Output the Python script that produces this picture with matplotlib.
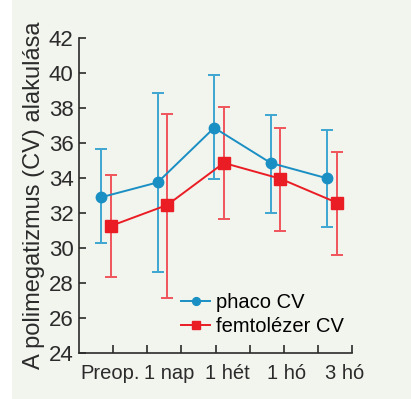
import numpy as np
import matplotlib.pyplot as plt
from matplotlib.patches import Rectangle

categories = ['Preop.', '1 nap', '1 hét', '1 hó', '3 hó']
phaco_mean = [32.9, 33.75, 36.87, 34.86, 33.98]
phaco_low = [30.27, 28.65, 33.96, 31.98, 31.2]
phaco_high = [35.64, 38.87, 39.87, 37.58, 36.76]
femto_mean = [31.26, 32.46, 34.86, 33.96, 32.59]
femto_low = [28.36, 27.16, 31.67, 30.99, 29.62]
femto_high = [34.17, 37.67, 38.07, 36.86, 35.47]

blue = '#1a8fc4'
blue_err = '#3ea6d2'
red = '#ea1c24'
red_err = '#f0545c'
bg = '#f2f4ee'
ink = '#2b2b2b'

plt.rcParams['font.family'] = ['Liberation Sans', 'DejaVu Sans']

fig = plt.figure(figsize=(4.16, 3.99), dpi=100, facecolor='white')
fig.patches.append(Rectangle((12 / 416, 0), (411 - 12) / 416, 1,
                             transform=fig.transFigure, facecolor=bg,
                             edgecolor='none', zorder=-10))
ax = fig.add_axes([79 / 416, 46 / 399, (352 - 79) / 416, (353 - 38) / 399])
ax.set_facecolor('none')

x = np.arange(len(categories))
off = 0.085
xp = x - off
xf = x + off

pm = np.array(phaco_mean)
fm = np.array(femto_mean)
perr = [pm - np.array(phaco_low), np.array(phaco_high) - pm]
ferr = [fm - np.array(femto_low), np.array(femto_high) - fm]

ax.errorbar(xp, pm, yerr=perr, fmt='none', ecolor=blue_err, elinewidth=1.4,
            capsize=4.5, capthick=1.4, zorder=2)
ax.errorbar(xf, fm, yerr=ferr, fmt='none', ecolor=red_err, elinewidth=1.4,
            capsize=4.5, capthick=1.4, zorder=2)
ax.plot(xp, pm, color=blue, lw=1.4, marker='o', ms=7.5, label='phaco CV', zorder=3)
ax.plot(xf, fm, color=red, lw=1.4, marker='s', ms=8, label='femtolézer CV', zorder=3)

xmin, xmax = -0.478, 4.354
ax.set_xlim(xmin, xmax)
ax.set_ylim(24, 42)
ax.set_yticks(np.arange(24, 43, 2))
ax.set_xticks(np.linspace(xmin, xmax, 9)[1:], minor=True)
ax.set_xticks(x * 1.04 + 0.07)
ax.set_xticklabels(categories)

for s in ['top', 'right']:
    ax.spines[s].set_visible(False)
for s in ['left', 'bottom']:
    ax.spines[s].set_color(ink)
    ax.spines[s].set_linewidth(1.2)

ax.tick_params(axis='y', direction='in', length=5, width=1.2, color=ink,
               labelsize=16, labelcolor=ink, pad=4)
ax.tick_params(axis='x', which='major', length=0, labelsize=14.5,
               labelcolor=ink, pad=8)
ax.tick_params(axis='x', which='minor', direction='in', length=5.5, width=1.2,
               color=ink)

ax.set_ylabel('A polimegatizmus (CV) alakulása', fontsize=17, color=ink,
              labelpad=3)

ax.legend(loc='lower left', bbox_to_anchor=(0.374, 0.055), frameon=False,
          fontsize=14.5, handlelength=1.45, handletextpad=0.3,
          labelspacing=0.22, borderaxespad=0, borderpad=0, markerscale=0.75)

fig.savefig('out.png', dpi=100, facecolor='white')
